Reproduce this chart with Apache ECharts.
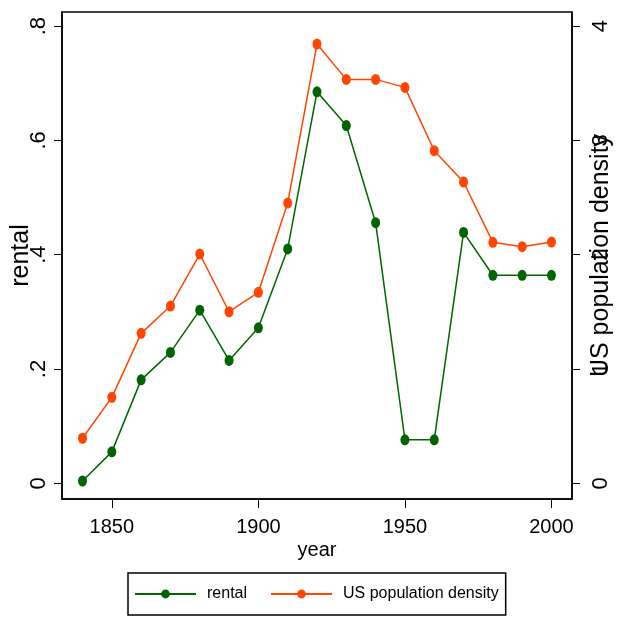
<!DOCTYPE html>
<html>
<head>
<meta charset="utf-8">
<script src="https://cdn.jsdelivr.net/npm/echarts@6/dist/echarts.min.js"></script>
<style>
html,body{margin:0;padding:0;background:#fff;}
#chart{width:618px;height:618px;}
</style>
</head>
<body>
<div id="chart"></div>
<script>
var years = [1840,1850,1860,1870,1880,1890,1900,1910,1920,1930,1940,1950,1960,1970,1980,1990,2000];
var rental = [0.004,0.055,0.181,0.229,0.303,0.215,0.272,0.410,0.685,0.626,0.456,0.076,0.076,0.439,0.364,0.364,0.364];
var density = [0.394,0.752,1.312,1.551,2.006,1.501,1.671,2.452,3.843,3.534,3.534,3.464,2.910,2.636,2.108,2.070,2.111];
var xTicks = [1850,1900,1950,2000];
var leftTicks = [0,0.2,0.4,0.6,0.8];
var leftTickLabels = ['0','.2','.4','.6','.8'];
var rightTicks = [0,1,2,3,4];
var rightTickLabels = ['0','1','2','3','4'];

var FONT = '"Liberation Sans", Arial, sans-serif';

function pairs(xs, ys){ return xs.map(function(x,i){ return [x, ys[i]]; }); }
function pick(ticks, labels){
  return function(v){ var i = ticks.findIndex(function(t){return Math.abs(t-v)<1e-9;}); return i>=0?labels[i]:''; };
}

var chart = echarts.init(document.getElementById('chart'), null, {renderer:'canvas'});
chart.setOption({
  backgroundColor:'#fff',
  animation:false,
  grid:{left:62, right:46, top:12, bottom:119, containLabel:false, outerBoundsMode:'none',
        show:true, borderColor:'#000', borderWidth:1.5, backgroundColor:'#fff'},
  legend:{
    left:128, top:573,
    padding:[13,7,13,6],
    borderColor:'#000', borderWidth:1.5, borderRadius:0,
    itemWidth:61, itemHeight:11, itemGap:23,
    textStyle:{fontFamily:FONT, fontSize:16, color:'#000', padding:[0,0,0,6]},
    data:['rental','US population density']
  },
  xAxis:{
    type:'value', min:1833, max:2007,
    name:'year', nameLocation:'middle', nameGap:41, nameMoveOverlap:false,
    nameTextStyle:{fontFamily:FONT, fontSize:20, color:'#000'},
    axisLine:{show:true, onZero:false, lineStyle:{color:'#000', width:1.5}},
    axisTick:{show:true, length:9, customValues:xTicks, lineStyle:{color:'#000', width:1}},
    axisLabel:{customValues:xTicks, margin:18, fontFamily:FONT, fontSize:20, color:'#000',
      formatter:function(v){ return String(v); }},
    splitLine:{show:false}
  },
  yAxis:[{
    type:'value', position:'left', min:-0.0275, max:0.8247,
    name:'rental', nameLocation:'middle', nameRotate:90, nameGap:28, nameMoveOverlap:false,
    nameTextStyle:{fontFamily:FONT, fontSize:25, color:'#000'},
    axisLine:{show:true, onZero:false, lineStyle:{color:'#000', width:1.5}},
    axisTick:{show:true, length:8, customValues:leftTicks, lineStyle:{color:'#000', width:1}},
    axisLabel:{customValues:leftTicks, rotate:90, margin:12, align:'center', verticalAlign:'bottom',
      fontFamily:FONT, fontSize:22, color:'#000', formatter:pick(leftTicks, leftTickLabels)},
    splitLine:{show:false}
  },{
    type:'value', position:'right', min:-0.1374, max:4.1235,
    name:'US population density', nameLocation:'middle', nameRotate:90, nameGap:17, nameMoveOverlap:false,
    nameTextStyle:{fontFamily:FONT, fontSize:25, color:'#000'},
    axisLine:{show:true, onZero:false, lineStyle:{color:'#000', width:1.5}},
    axisTick:{show:true, length:8, customValues:rightTicks, lineStyle:{color:'#000', width:1}},
    axisLabel:{customValues:rightTicks, rotate:90, margin:18, align:'center', verticalAlign:'top',
      fontFamily:FONT, fontSize:22, color:'#000', formatter:pick(rightTicks, rightTickLabels)},
    splitLine:{show:false}
  }],
  series:[{
    name:'rental', type:'line', yAxisIndex:0,
    data:pairs(years, rental),
    symbol:'circle', symbolSize:[9,11], showSymbol:true,
    color:'#006400',
    lineStyle:{color:'#006400', width:1.5},
    itemStyle:{color:'#006400'}
  },{
    name:'US population density', type:'line', yAxisIndex:1,
    data:pairs(years, density),
    symbol:'circle', symbolSize:[9,11], showSymbol:true,
    color:'#FF4500',
    lineStyle:{color:'#FF4500', width:1.5},
    itemStyle:{color:'#FF4500'}
  }]
});
</script>
</body>
</html>
